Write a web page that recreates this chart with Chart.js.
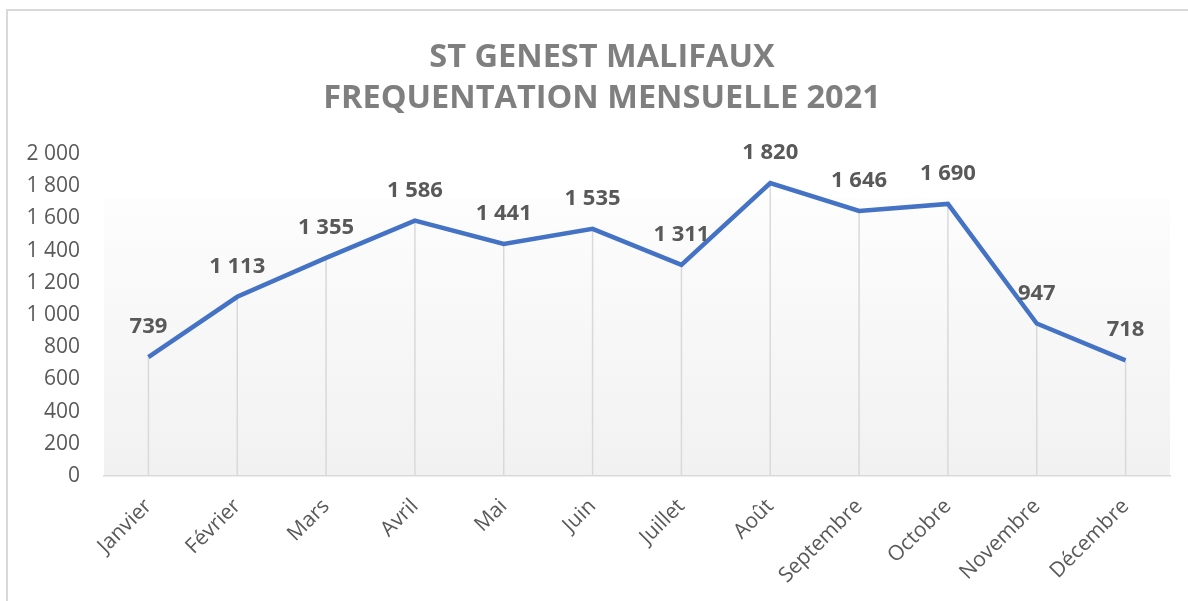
<!DOCTYPE html>
<html>
<head>
<meta charset="utf-8">
<script src="https://cdn.jsdelivr.net/npm/chart.js@4/dist/chart.umd.min.js"></script>
<style>
  html, body { margin: 0; padding: 0; background: #ffffff; }
  #wrap { width: 1188px; height: 601px; position: relative; }
</style>
</head>
<body>
<div id="wrap"><canvas id="c" width="1188" height="601"></canvas></div>
<script>
const titleLines = ['ST GENEST MALIFAUX', 'FREQUENTATION MENSUELLE 2021'];
const months = ['Janvier', 'Février', 'Mars', 'Avril', 'Mai', 'Juin', 'Juillet', 'Août', 'Septembre', 'Octobre', 'Novembre', 'Décembre'];
const visits = [739, 1113, 1355, 1586, 1441, 1535, 1311, 1820, 1646, 1690, 947, 718];
const yMin = 0;
const yMax = 2000;
const yStep = 200;

function fmt(v) {
  return String(v).replace(/\B(?=(\d{3})+(?!\d))/g, ' ');
}

const framePlugin = {
  id: 'frame',
  beforeDraw(chart) {
    const ctx = chart.ctx;
    const a = chart.chartArea;
    ctx.save();
    ctx.strokeStyle = '#d9d9d9';
    ctx.lineWidth = 2;
    ctx.beginPath();
    ctx.moveTo(7, chart.height);
    ctx.lineTo(7, 10);
    ctx.lineTo(chart.width, 10);
    ctx.stroke();
    const top = a.top + (a.bottom - a.top) * 0.135;
    const g = ctx.createLinearGradient(0, top, 0, a.bottom);
    g.addColorStop(0, '#fdfdfd');
    g.addColorStop(1, '#f1f1f1');
    ctx.fillStyle = g;
    ctx.fillRect(a.left, top, a.right - a.left, a.bottom - top);
    // title
    ctx.fillStyle = '#7f7f7f';
    ctx.font = 'bold 32.5px "Open Sans"';
    ctx.textAlign = 'center';
    ctx.textBaseline = 'middle';
    const cx = chart.width / 2 + 8;
    titleLines.forEach((t, i) => ctx.fillText(t, cx, 58 + i * 40.5));
    ctx.restore();
  }
};

const dropLinePlugin = {
  id: 'dropLines',
  beforeDatasetsDraw(chart) {
    const ctx = chart.ctx;
    const meta = chart.getDatasetMeta(0);
    const yBottom = chart.scales.y.getPixelForValue(0);
    ctx.save();
    ctx.strokeStyle = '#d9d9d9';
    ctx.lineWidth = 1.5;
    meta.data.forEach(p => {
      ctx.beginPath();
      ctx.moveTo(p.x, p.y);
      ctx.lineTo(p.x, yBottom);
      ctx.stroke();
    });
    ctx.restore();
  }
};

const labelPlugin = {
  id: 'valueLabels',
  afterDatasetsDraw(chart) {
    const ctx = chart.ctx;
    const meta = chart.getDatasetMeta(0);
    const data = chart.data.datasets[0].data;
    ctx.save();
    ctx.fillStyle = '#595959';
    ctx.font = 'bold 22px "Open Sans"';
    ctx.textAlign = 'center';
    ctx.textBaseline = 'alphabetic';
    meta.data.forEach((p, i) => {
      ctx.fillText(fmt(data[i]), p.x, p.y - 24);
    });
    ctx.restore();
  }
};

new Chart(document.getElementById('c'), {
  type: 'line',
  data: {
    labels: months,
    datasets: [{
      data: visits,
      borderColor: '#4472C4',
      borderWidth: 4.5,
      pointRadius: 0,
      pointHoverRadius: 0,
      tension: 0,
      fill: false
    }]
  },
  options: {
    responsive: false,
    animation: false,
    events: [],
    layout: { padding: { left: 0, right: 18, top: 154, bottom: 0 } },
    plugins: {
      legend: { display: false },
      tooltip: { enabled: false },
      title: { display: false }
    },
    scales: {
      x: {
        offset: true,
        grid: { display: false },
        border: { display: true, color: '#d9d9d9', width: 1.5 },
        ticks: {
          color: '#595959',
          font: { family: 'Open Sans', size: 21 },
          minRotation: 45,
          maxRotation: 45,
          padding: 10,
          autoSkip: false
        },
        afterFit(scale) { scale.height = 125; }
      },
      y: {
        min: yMin,
        max: yMax,
        grid: { display: false, drawTicks: false },
        border: { display: false },
        ticks: {
          stepSize: yStep,
          color: '#595959',
          font: { family: 'Open Sans', size: 21 },
          padding: 24,
          callback: v => fmt(v)
        },
        afterFit(scale) { scale.width = 104; }
      }
    }
  },
  plugins: [framePlugin, dropLinePlugin, labelPlugin]
});
</script>
</body>
</html>
